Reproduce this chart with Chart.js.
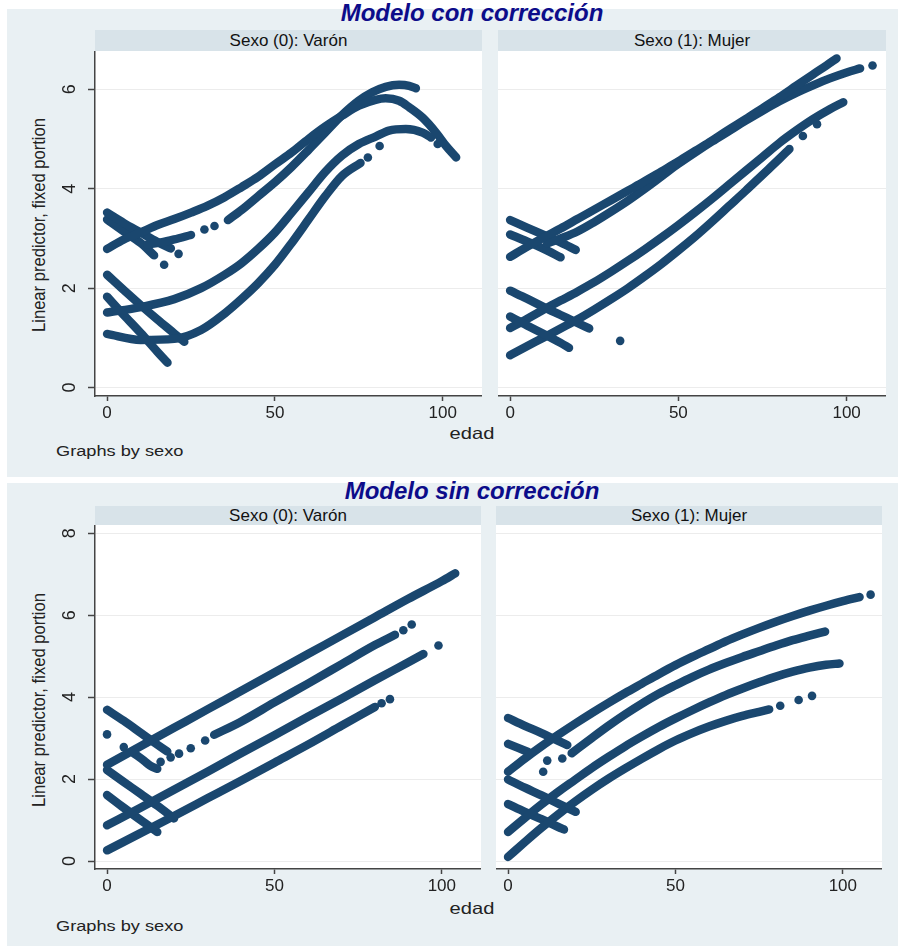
<!DOCTYPE html>
<html lang="es">
<head>
<meta charset="utf-8">
<title>Linear predictor por edad y sexo</title>
<script src="https://cdn.jsdelivr.net/npm/chart.js@4.4.0/dist/chart.umd.min.js"></script>
<style>
  body { margin: 0; width: 904px; height: 947px; position: relative; overflow: hidden;
         background: #fff; font-family: 'Liberation Sans', Arial, sans-serif; color: #222; }
  .box   { position: absolute; left: 7px; width: 891px; background: #e9f0f3; }
  .title { position: absolute; left: 0; width: 944px; height: 28px; line-height: 28px; text-align: center;
           font: italic bold 24px 'Liberation Sans', Arial, sans-serif; color: #0c0c8a; }
  .strip { position: absolute; background: #d8e3e9; text-align: center; font-size: 17px; color: #111; }
  .ytitle { position: absolute; width: 300px; height: 20px; line-height: 20px; text-align: center;
            font-size: 16.6px; transform: rotate(-90deg) scaleY(1.15); }
  .xtitle { position: absolute; width: 100px; height: 20px; line-height: 20px; text-align: center;
            font-size: 16.5px; transform: scaleX(1.22); }
  .note  { position: absolute; height: 16px; line-height: 16px; font-size: 14px;
           transform: scaleX(1.3); transform-origin: left center; }
  canvas { position: absolute; }
</style>
</head>
<body>

<div class="box" style="top:9px;height:468px"></div>
<div class="box" style="top:483px;height:463px"></div>

<div class="title" style="top:-1px">Modelo con corrección</div>
<div class="title" style="top:477px">Modelo sin corrección</div>

<div class="strip" style="left:95px;top:30px;width:387px;height:21px;line-height:21px">Sexo (0): Varón</div>
<div class="strip" style="left:498px;top:30px;width:388px;height:21px;line-height:21px">Sexo (1): Mujer</div>
<div class="strip" style="left:95px;top:506px;width:386px;height:19px;line-height:19px">Sexo (0): Varón</div>
<div class="strip" style="left:496px;top:506px;width:386px;height:19px;line-height:19px">Sexo (1): Mujer</div>

<div class="ytitle" style="left:-111px;top:215px">Linear predictor, fixed portion</div>
<div class="ytitle" style="left:-111px;top:690px">Linear predictor, fixed portion</div>

<div class="xtitle" style="left:422px;top:423px">edad</div>
<div class="xtitle" style="left:422px;top:898px">edad</div>

<div class="note" style="left:56px;top:443px">Graphs by sexo</div>
<div class="note" style="left:56px;top:918px">Graphs by sexo</div>

<canvas id="c-con-varon" width="427" height="375" style="left:55px;top:51px"></canvas>
<canvas id="c-con-mujer" width="388" height="375" style="left:498px;top:51px"></canvas>
<canvas id="c-sin-varon" width="426" height="374" style="left:55px;top:525px"></canvas>
<canvas id="c-sin-mujer" width="386" height="374" style="left:496px;top:525px"></canvas>

<script>
'use strict';

/* ---------- Ejes ---------- */
const X_TICKS     = [0, 50, 100];
const Y_TICKS_CON = [0, 2, 4, 6];
const Y_TICKS_SIN = [0, 2, 4, 6, 8];

/* ---------- Modelo con corrección, Varón: [edad, predictor] ---------- */
const conVaronA  = [[0,2.79],[5,2.98],[10,3.12],[15,3.27],[20,3.39],[25,3.52],[30,3.66],[35,3.83],[40,4.03],[45,4.24],[50,4.49],[55,4.73],[60,5.0],[65,5.25],[70,5.47],[75,5.67],[80,5.79],[83,5.82],[87,5.77],[90,5.64],[94,5.43],[98,5.13],[101,4.86],[104,4.63]];
const conVaronB1 = [[12,2.88],[16,2.92],[20,2.98],[25,3.07]];
const conVaronB2 = [[36,3.37],[40,3.57],[45,3.85],[50,4.13],[55,4.44],[60,4.78],[65,5.13],[70,5.48],[75,5.77],[79,5.94],[83,6.05],[87,6.09],[90,6.07],[92,6.02]];
const conVaronC1 = [[0,1.51],[10,1.62],[20,1.78],[28,2.0],[35,2.27],[40,2.5],[45,2.79],[50,3.12],[55,3.52],[60,3.93],[65,4.34],[70,4.67],[75,4.9],[80,5.05],[84,5.17],[89,5.2],[94,5.13],[96.5,5.03]];
const conVaronC2 = [[0,1.08],[10,0.96],[20,0.98],[28,1.16],[35,1.49],[40,1.78],[45,2.1],[50,2.47],[55,2.91],[60,3.38],[65,3.85],[70,4.26],[75.5,4.52]];
const conVaronD1 = [[0,3.52],[5,3.31],[10,3.12],[15,2.93],[19,2.8]];
const conVaronD2 = [[0,3.38],[5,3.14],[10,2.91],[14,2.66]];
const conVaronD3 = [[0,2.27],[5,1.96],[10,1.66],[15,1.37],[20,1.09],[23,0.92]];
const conVaronD4 = [[0,1.83],[5,1.46],[10,1.1],[15,0.72],[18,0.5]];
const conVaronPuntos = [[21.3,2.69],[17,2.47],[29,3.18],[32,3.25],[98.5,4.9],[77.7,4.63],[81.2,4.86]];

/* ---------- Modelo con corrección, Mujer ---------- */
const conMujerE1 = [[0,2.63],[5,2.83],[10,3.02],[15,3.2],[20,3.39],[25,3.58],[30,3.77],[35,3.96],[40,4.15],[45,4.35],[50,4.55],[55,4.76],[60,4.97],[65,5.19],[70,5.4],[75,5.62],[80,5.84],[85,6.07],[90,6.3],[94,6.48],[97,6.62]];
const conMujerE2 = [[11,2.9],[15,3.0],[20,3.14],[25,3.33],[30,3.54],[35,3.76],[40,4.0],[45,4.25],[50,4.5],[55,4.73],[60,4.95],[65,5.16],[70,5.37],[75,5.57],[80,5.76],[85,5.93],[90,6.08],[95,6.22],[100,6.34],[104,6.42]];
const conMujerF1 = [[0,3.37],[5,3.22],[10,3.07],[15,2.92],[19.5,2.77]];
const conMujerF2 = [[0,3.08],[5,2.94],[10,2.79],[15,2.62]];
const conMujerF3 = [[0,1.95],[5,1.79],[10,1.62],[15,1.46],[20,1.3],[23.5,1.19]];
const conMujerF4 = [[0,1.43],[5,1.25],[10,1.08],[15,0.9],[17.5,0.8]];
const conMujerG1 = [[0,1.2],[5,1.38],[10,1.57],[15,1.75],[20,1.93],[25,2.12],[30,2.33],[35,2.55],[40,2.78],[45,3.02],[50,3.27],[55,3.53],[60,3.8],[65,4.08],[70,4.36],[75,4.64],[80,4.92],[85,5.17],[90,5.4],[95,5.6],[99,5.74]];
const conMujerG2 = [[0,0.65],[5,0.83],[10,1.01],[15,1.19],[20,1.37],[25,1.57],[30,1.78],[35,2.0],[40,2.24],[45,2.49],[50,2.76],[55,3.04],[60,3.34],[65,3.65],[70,3.96],[75,4.28],[80,4.6],[83,4.8]];
const conMujerPuntos = [[107.7,6.48],[87,5.06],[91.2,5.3],[32.7,0.94]];

/* ---------- Modelo sin corrección, Varón ---------- */
const sinVaronH1 = [[0,2.35],[10,2.8],[20,3.25],[30,3.7],[40,4.15],[50,4.6],[60,5.05],[70,5.5],[80,5.95],[90,6.4],[100,6.83],[104,7.02]];
const sinVaronH2 = [[32,3.08],[40,3.4],[50,3.87],[60,4.33],[70,4.8],[80,5.27],[86,5.52]];
const sinVaronH3 = [[0,0.87],[10,1.3],[20,1.74],[30,2.18],[40,2.63],[50,3.07],[60,3.52],[70,3.96],[80,4.41],[90,4.85],[94.5,5.05]];
const sinVaronH4 = [[0,0.26],[10,0.68],[20,1.1],[30,1.53],[40,1.96],[50,2.4],[60,2.84],[70,3.3],[80,3.76]];
const sinVaronD1 = [[0,3.69],[5,3.42],[10,3.13],[15,2.84],[18,2.67]];
const sinVaronD2 = [[8,2.63],[11,2.45],[13,2.32],[15,2.25]];
const sinVaronD3 = [[0,2.22],[5,1.93],[10,1.64],[15,1.35],[20,1.04]];
const sinVaronD4 = [[0,1.61],[5,1.3],[10,1.0],[15,0.71]];
const sinVaronPuntos = [[0,3.09],[5,2.78],[16,2.42],[19,2.53],[21.5,2.62],[25,2.75],[29.3,2.94],[88.5,5.63],[91,5.77],[99,5.26],[82,3.85],[84.5,3.95]];

/* ---------- Modelo sin corrección, Mujer ---------- */
const sinMujerI1 = [[0,2.18],[5,2.5],[10,2.8],[15,3.08],[20,3.35],[25,3.61],[30,3.86],[35,4.1],[40,4.33],[45,4.56],[50,4.78],[55,4.98],[60,5.17],[65,5.36],[70,5.53],[75,5.69],[80,5.84],[85,5.98],[90,6.11],[95,6.23],[100,6.34],[105,6.44]];
const sinMujerI2 = [[19,2.63],[25,3.0],[30,3.3],[35,3.58],[40,3.84],[45,4.08],[50,4.29],[55,4.49],[60,4.67],[65,4.83],[70,4.98],[75,5.12],[80,5.26],[85,5.39],[90,5.5],[94.7,5.6]];
const sinMujerI3 = [[0,0.71],[5,1.05],[10,1.38],[15,1.69],[20,1.98],[25,2.27],[30,2.54],[35,2.8],[40,3.04],[45,3.27],[50,3.48],[55,3.68],[60,3.87],[65,4.05],[70,4.21],[75,4.36],[80,4.5],[85,4.62],[90,4.72],[95,4.79],[99,4.82]];
const sinMujerI4 = [[0,0.1],[5,0.46],[10,0.81],[15,1.14],[20,1.45],[25,1.74],[30,2.01],[35,2.26],[40,2.5],[45,2.73],[50,2.94],[55,3.12],[60,3.28],[65,3.42],[70,3.54],[75,3.64],[78,3.7]];
const sinMujerJ1 = [[0,3.49],[5,3.3],[10,3.12],[15,2.93],[17.7,2.83]];
const sinMujerJ2 = [[0,2.86],[3,2.76],[6,2.66]];
const sinMujerJ3 = [[0,1.99],[5,1.79],[10,1.6],[15,1.4],[20.2,1.2]];
const sinMujerJ4 = [[0,1.39],[5,1.2],[10,1.02],[15,0.83],[16.7,0.77]];
const sinMujerPuntos = [[108.3,6.5],[10.5,2.18],[11.7,2.45],[16.2,2.5],[81.3,3.79],[86.8,3.93],[90.8,4.03]];

/* ---------- Estilo ---------- */
const NAVY = '#1a476f';
const AXIS = '#444';
Chart.defaults.font.family = "'Liberation Sans', Arial, sans-serif";
Chart.defaults.color = '#222';

const toXY = pts => pts.map(([x, y]) => ({ x, y }));

function lineSet(pts) {
  return {
    data: toXY(pts),
    showLine: true,
    borderColor: NAVY,
    backgroundColor: NAVY,
    borderWidth: 8.5,
    pointRadius: 0,
    cubicInterpolationMode: 'monotone',
    borderCapStyle: 'round',
    borderJoinStyle: 'round',
  };
}

function dotSet(pts) {
  return { data: toXY(pts), showLine: false, pointRadius: 4.3, backgroundColor: NAVY, borderWidth: 0 };
}

/* Fondo blanco solo en el área de trazado */
const plotBg = {
  id: 'plotBg',
  beforeDraw(chart) {
    const { ctx, chartArea: a } = chart;
    ctx.save();
    ctx.fillStyle = '#fff';
    ctx.fillRect(a.left, a.top, a.right - a.left, a.bottom - a.top);
    ctx.restore();
  },
};

function panel(canvasId, lines, dots, yMin, yMax, yTicks, showY) {
  const datasets = lines.map(lineSet).concat([dotSet(dots)]);
  new Chart(document.getElementById(canvasId), {
    type: 'scatter',
    data: { datasets },
    options: {
      responsive: false,
      animation: false,
      layout: { padding: 0, autoPadding: false },
      plugins: { legend: { display: false }, tooltip: { enabled: false } },
      scales: {
        x: {
          type: 'linear',
          min: -3.6,
          max: 111.7,
          afterBuildTicks: s => { s.ticks = X_TICKS.map(v => ({ value: v })); },
          afterFit: s => { s.height = 30; s.paddingLeft = 0; s.paddingRight = 0; },
          grid: { drawOnChartArea: false, tickLength: 5, tickWidth: 1.5, tickColor: AXIS },
          border: { color: AXIS, width: 1.5 },
          ticks: { font: { size: 17 }, color: '#222', padding: 2, maxRotation: 0 },
        },
        y: {
          type: 'linear',
          min: yMin,
          max: yMax,
          afterBuildTicks: s => { s.ticks = yTicks.map(v => ({ value: v })); },
          afterFit: s => { s.width = showY ? 40 : 0; s.paddingTop = 0; s.paddingBottom = 0; },
          grid: { color: '#ececec', lineWidth: 1, drawTicks: showY, tickLength: 7, tickWidth: 1.5, tickColor: AXIS },
          border: { display: showY, color: AXIS, width: 1.5 },
          ticks: {
            display: showY,
            minRotation: 90,
            maxRotation: 90,
            crossAlign: 'center',
            padding: 13,
            font: { size: 18 },
            color: '#222',
          },
        },
      },
    },
    plugins: [plotBg],
  });
}

panel('c-con-varon',
  [conVaronA, conVaronB1, conVaronB2, conVaronC1, conVaronC2, conVaronD1, conVaronD2, conVaronD3, conVaronD4],
  conVaronPuntos, -0.169, 6.771, Y_TICKS_CON, true);
panel('c-con-mujer',
  [conMujerE1, conMujerE2, conMujerF1, conMujerF2, conMujerF3, conMujerF4, conMujerG1, conMujerG2],
  conMujerPuntos, -0.169, 6.771, Y_TICKS_CON, false);
panel('c-sin-varon',
  [sinVaronH1, sinVaronH2, sinVaronH3, sinVaronH4, sinVaronD1, sinVaronD2, sinVaronD3, sinVaronD4],
  sinVaronPuntos, -0.195, 8.2, Y_TICKS_SIN, true);
panel('c-sin-mujer',
  [sinMujerI1, sinMujerI2, sinMujerI3, sinMujerI4, sinMujerJ1, sinMujerJ2, sinMujerJ3, sinMujerJ4],
  sinMujerPuntos, -0.195, 8.2, Y_TICKS_SIN, false);
</script>
</body>
</html>
